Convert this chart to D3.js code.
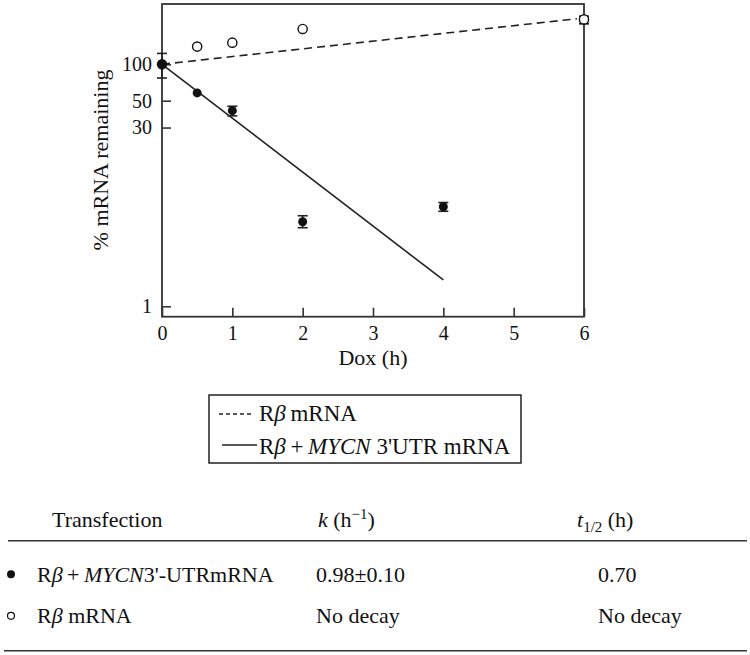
<!DOCTYPE html>
<html>
<head>
<meta charset="utf-8">
<script src="https://cdn.jsdelivr.net/npm/d3@7"></script>
<style>
  body { margin: 0; background: #fff; }
  svg, svg text { font-family: "Liberation Serif", "DejaVu Serif", serif !important; }
  text { fill: #111; }
  .axis path { display: none; }
  .axis line { stroke: #333; stroke-width: 1.6; }
  .axis text { font-size: 20px; }
</style>
</head>
<body>
<script>
// filled circles: Rb + MYCN 3'UTR mRNA
var filledX = [0, 0.5, 1, 2, 4];
var filledY = [100, 58, 41.4, 5.0, 6.65];
var filledLo = [77, null, 37.5, 4.46, 6.1];
var filledHi = [123, null, 45, 5.6, 7.2];

// open circles: Rb mRNA
var openX = [0.5, 1, 2, 6];
var openY = [140, 151, 196, 235];
var openLo = [null, null, null, 216];
var openHi = [null, null, null, 250];

// fitted lines
var dashedFit = [[0, 100], [5.9, 238]];
var solidFit = [[0, 100], [4, 1.65]];

var xTicks = [0, 1, 2, 3, 4, 5, 6];
var yTicks = [100, 50, 30, 1];

var legendLabels = ["dashed", "solid"];

// table
var tableHeader = ["Transfection", "k", "t"];
var rowNames = ["filled", "open"];
var rowK = ["0.98\u00b10.10", "No decay"];
var rowHalf = ["0.70", "No decay"];

var serif = "'Liberation Serif', 'DejaVu Serif', serif";

window.onload = drawChart();

function drawChart(){

	var width = 750,
	height = 655;

	var svg = d3.select("body")
		.append("svg")
		.attr("width", width)
		.attr("height", height)
		.style("font-family", serif);

	// plot frame
	var left = 162, right = 584, top = 4, bottom = 316.7;

	var x = d3.scaleLinear()
		.domain([0, 6])
		.range([left, right]);

	var y = d3.scaleLog()
		.domain([0.82, 315])
		.range([bottom, top]);

	// frame
	svg.append("rect")
		.attr("x", left)
		.attr("y", top)
		.attr("width", right - left)
		.attr("height", bottom - top)
		.attr("fill", "none")
		.attr("stroke", "#333")
		.attr("stroke-width", 1.8);

	// x axis
	svg.append("g")
		.attr("class", "axis")
		.attr("transform", "translate(0," + bottom + ")")
		.call(d3.axisBottom(x).tickValues(xTicks).tickSizeInner(-9).tickSizeOuter(0).tickPadding(9).tickFormat(d3.format("d")))
		.attr("font-family", null)
		.attr("font-size", null);

	// y axis
	var yAxis = svg.append("g")
		.attr("class", "axis")
		.attr("transform", "translate(" + left + ",0)")
		.call(d3.axisLeft(y).tickValues(yTicks).tickSizeInner(-9).tickSizeOuter(0).tickPadding(10).tickFormat(d3.format("d")))
		.attr("font-family", null)
		.attr("font-size", null);
	yAxis.selectAll(".tick line")
		.attr("stroke-width", function(d){ return d === 1 ? 2.6 : 1.6; });

	// axis titles
	svg.append("text")
		.attr("x", (left + right) / 2)
		.attr("y", 365)
		.attr("text-anchor", "middle")
		.attr("font-size", 22)
		.text("Dox (h)");

	svg.append("text")
		.attr("transform", "translate(108,160) rotate(-90)")
		.attr("text-anchor", "middle")
		.attr("font-size", 22)
		.text("% mRNA remaining");

	// fitted lines
	var line = d3.line()
		.x(function(d){ return x(d[0]); })
		.y(function(d){ return y(d[1]); });

	svg.append("path")
		.datum(dashedFit)
		.attr("d", line)
		.attr("fill", "none")
		.attr("stroke", "#222")
		.attr("stroke-width", 1.6)
		.attr("stroke-dasharray", "8,5");

	svg.append("path")
		.datum(solidFit)
		.attr("d", line)
		.attr("fill", "none")
		.attr("stroke", "#222")
		.attr("stroke-width", 1.6);

	// error bars
	function errorBars(xs, lo, hi){
		xs.forEach(function(xv, i){
			if (lo[i] === null) return;
			var g = svg.append("g").attr("stroke", "#222").attr("stroke-width", 1.6);
			g.append("line")
				.attr("x1", x(xv)).attr("x2", x(xv))
				.attr("y1", y(lo[i])).attr("y2", y(hi[i]));
			[lo[i], hi[i]].forEach(function(v){
				g.append("line")
					.attr("x1", x(xv) - 5).attr("x2", x(xv) + 5)
					.attr("y1", y(v)).attr("y2", y(v));
			});
		});
	}
	errorBars(filledX, filledLo, filledHi);
	errorBars(openX, openLo, openHi);

	// points
	var openPts = openX.map(function(d, i){ return [d, openY[i]]; });
	var filledPts = filledX.map(function(d, i){ return [d, filledY[i]]; });

	svg.selectAll(".open")
		.data(openPts)
		.enter()
		.append("circle")
		.attr("class", "open")
		.attr("cx", function(d){ return x(d[0]); })
		.attr("cy", function(d){ return y(d[1]); })
		.attr("r", 4.6)
		.attr("fill", "#fff")
		.attr("stroke", "#111")
		.attr("stroke-width", 1.4);

	svg.selectAll(".filled")
		.data(filledPts)
		.enter()
		.append("circle")
		.attr("class", "filled")
		.attr("cx", function(d){ return x(d[0]); })
		.attr("cy", function(d){ return y(d[1]); })
		.attr("r", function(d){ return d[0] === 0 ? 5.2 : 4.5; })
		.attr("fill", "#111");

	// legend
	var legend = svg.append("g");
	legend.append("rect")
		.attr("x", 209)
		.attr("y", 395)
		.attr("width", 312)
		.attr("height", 68)
		.attr("fill", "none")
		.attr("stroke", "#222")
		.attr("stroke-width", 1.5);

	legendLabels.forEach(function(kind, i){
		var ly = i === 0 ? 414 : 445;
		legend.append("line")
			.attr("x1", i === 0 ? 219 : 222)
			.attr("x2", i === 0 ? 253 : 257)
			.attr("y1", ly).attr("y2", ly)
			.attr("stroke", "#222")
			.attr("stroke-width", 1.4)
			.attr("stroke-dasharray", kind === "dashed" ? "4,3" : null);

		var t = legend.append("text")
			.attr("x", 259)
			.attr("y", i === 0 ? 421 : 454)
			.attr("font-size", 23);
		t.append("tspan").text("R");
		t.append("tspan").attr("font-style", "italic").text("\u03b2");
		if (kind === "dashed") {
			t.append("tspan").text("\u2009mRNA");
		} else {
			t.append("tspan").text("\u2009+\u2009");
			t.append("tspan").attr("font-style", "italic").text("MYCN");
			t.append("tspan").text(" 3'UTR mRNA");
		}
	});

	// table
	var tab = svg.append("g").attr("font-size", 22);

	tab.append("text")
		.attr("x", 52).attr("y", 527)
		.text(tableHeader[0]);

	var kt = tab.append("text").attr("x", 318).attr("y", 527);
	kt.append("tspan").attr("font-style", "italic").text(tableHeader[1]);
	kt.append("tspan").text(" (h");
	kt.append("tspan").attr("font-size", 15).attr("dy", -8).text("\u22121");
	kt.append("tspan").attr("dy", 8).text(")");

	var ht = tab.append("text").attr("x", 577).attr("y", 527);
	ht.append("tspan").attr("font-style", "italic").text(tableHeader[2]);
	ht.append("tspan").attr("font-size", 15).attr("dy", 5).text("1/2");
	ht.append("tspan").attr("dy", -5).text(" (h)");

	tab.append("line")
		.attr("x1", 8).attr("x2", 747)
		.attr("y1", 540.7).attr("y2", 540.7)
		.attr("stroke", "#333").attr("stroke-width", 1.6);
	tab.append("line")
		.attr("x1", 4).attr("x2", 747)
		.attr("y1", 650.7).attr("y2", 650.7)
		.attr("stroke", "#333").attr("stroke-width", 1.6);

	rowNames.forEach(function(kind, i){
		var by = i === 0 ? 581.7 : 623.3;
		tab.append("circle")
			.attr("cx", 11).attr("cy", by - 7.5)
			.attr("r", kind === "filled" ? 4 : 3.5)
			.attr("fill", kind === "filled" ? "#111" : "#fff")
			.attr("stroke", "#111")
			.attr("stroke-width", kind === "filled" ? 0 : 1.2);

		var t = tab.append("text").attr("x", 37).attr("y", by);
		t.append("tspan").text("R");
		t.append("tspan").attr("font-style", "italic").text("\u03b2");
		if (kind === "filled") {
			t.append("tspan").text("\u2009+\u2009");
			t.append("tspan").attr("font-style", "italic").text("MYCN");
			t.append("tspan").text("3'-UTRmRNA");
		} else {
			t.append("tspan").text(" mRNA");
		}

		tab.append("text").attr("x", 316).attr("y", by).text(rowK[i]);
		tab.append("text").attr("x", 598).attr("y", by).text(rowHalf[i]);
	});
};
</script>
</body>
</html>
